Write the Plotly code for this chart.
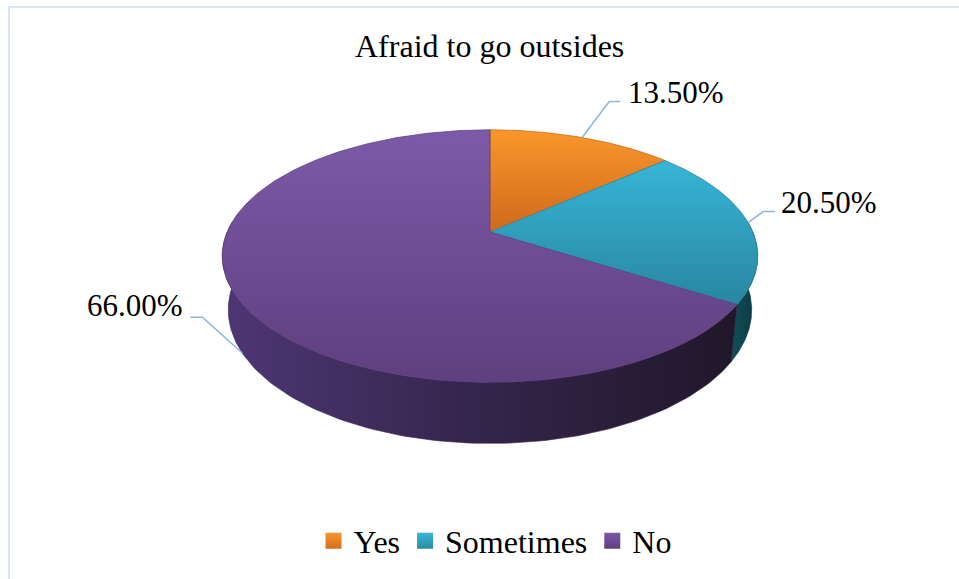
import numpy as np
import plotly.graph_objects as go

# ---- data ----
categories = ["Yes", "Sometimes", "No"]
shares = [13.5, 20.5, 66.0]
value_labels = [f"{v:.2f}%" for v in shares]
chart_title = "Afraid to go outsides"

# ---- styling ----
top_colors = {
    "Yes": ("#F9972B", "#D0691D"),
    "Sometimes": ("#38B5D7", "#2886A0"),
    "No": ("#7D5AA8", "#5E3F7F"),
}
wall_colors = {
    "Yes": ["#A4561A", "#6E3A0E"],
    "Sometimes": ["#115058", "#0B3740"],
    "No": ["#4E3675", "#34254B", "#20172A"],
}
legend_colors = {
    "Yes": ("#F8952A", "#D56E1F"),
    "Sometimes": ("#38B5D7", "#2A8BA5"),
    "No": ("#7B58A6", "#5F4080"),
}
LEADER_COLOR = "#8EB4E3"
FONT = "Liberation Serif, Times New Roman, serif"

# perspective projection of the pie disk (pixel space)
CX, CY = 490.0, 232.0
FX, FY = 1230.0, 1254.0
DIST = 4.68
TILT = np.radians(27.0)
DEPTH = 0.227
W, H = 959, 579


def project(phi_deg, level):
    phi = np.radians(np.asarray(phi_deg, dtype=float))
    X, Z, Y = np.cos(phi), np.sin(phi), level
    yc = Y * np.cos(TILT) + Z * np.sin(TILT)
    zc = DIST + Z * np.cos(TILT) - Y * np.sin(TILT)
    return CX + FX * X / zc, CY - FY * yc / zc


# slice angles: start at 12 o'clock, run clockwise
cum = np.concatenate([[0.0], np.cumsum(shares)])
phi_start = 90.0 - 3.6 * cum[:-1]
phi_end = 90.0 - 3.6 * cum[1:]

fig = go.Figure()

# outer walls (near side of the cylinder)
VIS_LO, VIS_HI = -185.0, 5.0
for name, a0, a1 in zip(categories, phi_start, phi_end):
    lo, hi = min(a0, a1), max(a0, a1)
    for k in (-1, 0, 1):
        s, e = max(lo, VIS_LO + 360 * k), min(hi, VIS_HI + 360 * k)
        if e <= s:
            continue
        ang = np.linspace(s, e, 120)
        tx, ty = project(ang, 0.0)
        bx, by = project(ang[::-1], -DEPTH)
        xs = np.concatenate([tx, bx, tx[:1]])
        ys = np.concatenate([ty, by, ty[:1]])
        cols = wall_colors[name]
        scale = [[i / (len(cols) - 1), c] for i, c in enumerate(cols)]
        fig.add_trace(go.Scatter(
            x=xs, y=ys, mode="lines", fill="toself",
            line=dict(width=0.6, color=cols[len(cols) // 2]),
            fillgradient=dict(type="horizontal", colorscale=scale,
                              start=float(xs.min()), stop=float(xs.max())),
            hoverinfo="skip", showlegend=False,
        ))

# top faces
for name, a0, a1 in zip(categories, phi_start, phi_end):
    ang = np.linspace(a0, a1, 200)
    ax_, ay_ = project(ang, 0.0)
    xs = np.concatenate([[CX], ax_, [CX]])
    ys = np.concatenate([[CY], ay_, [CY]])
    c_top, c_bot = top_colors[name]
    fig.add_trace(go.Scatter(
        x=xs, y=ys, mode="lines", fill="toself",
        line=dict(width=0.8, color=c_bot),
        fillgradient=dict(type="vertical", colorscale=[[0, c_top], [1, c_bot]],
                          start=float(ys.min()), stop=float(ys.max())),
        hoverinfo="skip", showlegend=False,
    ))

# data labels with leader lines
label_style = {
    "Yes": dict(level=0.0, elbow=(27, -36), run=11, gap=6, rise=-9),
    "Sometimes": dict(level=0.0, elbow=(15, -11), run=12, gap=4, rise=-9),
    "No": dict(level=-DEPTH, elbow=(-40, -36), run=-12, gap=-5, rise=-12),
}
for name, text, a0, a1 in zip(categories, value_labels, phi_start, phi_end):
    st = label_style[name]
    px, py = project((a0 + a1) / 2.0, st["level"])
    ex, ey = px + st["elbow"][0], py + st["elbow"][1]
    fx = ex + st["run"]
    fig.add_trace(go.Scatter(
        x=[px, ex, fx], y=[py, ey, ey], mode="lines",
        line=dict(color=LEADER_COLOR, width=1.5),
        hoverinfo="skip", showlegend=False,
    ))
    fig.add_annotation(
        x=fx + st["gap"], y=ey + st["rise"], text=text, showarrow=False,
        xanchor="left" if st["run"] > 0 else "right", yanchor="middle",
        font=dict(family=FONT, size=31, color="#000000"),
    )

# legend entries
for name in categories:
    c_top, c_bot = legend_colors[name]
    fig.add_trace(go.Scatter(
        x=[None], y=[None], mode="markers", name=name,
        marker=dict(symbol="square", size=16, color=c_top,
                    gradient=dict(type="vertical", color=c_bot)),
    ))

fig.add_annotation(
    x=489, y=46, text=chart_title, showarrow=False,
    xanchor="center", yanchor="middle",
    font=dict(family=FONT, size=32, color="#000000"),
)

# chart frame
fig.add_trace(go.Scatter(
    x=[9, 9, W + 5], y=[H + 5, 7, 7], mode="lines",
    line=dict(color="#D8E4F3", width=2),
    hoverinfo="skip", showlegend=False,
))

fig.update_layout(
    width=W, height=H,
    margin=dict(l=0, r=0, t=0, b=0),
    paper_bgcolor="white", plot_bgcolor="white",
    xaxis=dict(range=[0, W], visible=False, fixedrange=True),
    yaxis=dict(range=[H, 0], visible=False, fixedrange=True),
    showlegend=True,
    legend=dict(
        orientation="h", x=495 / W, xanchor="center",
        y=1 - 541 / H, yanchor="middle",
        font=dict(family=FONT, size=32, color="#000000"),
        bgcolor="rgba(0,0,0,0)", traceorder="normal",
    ),
)

fig.write_html("out.html")
